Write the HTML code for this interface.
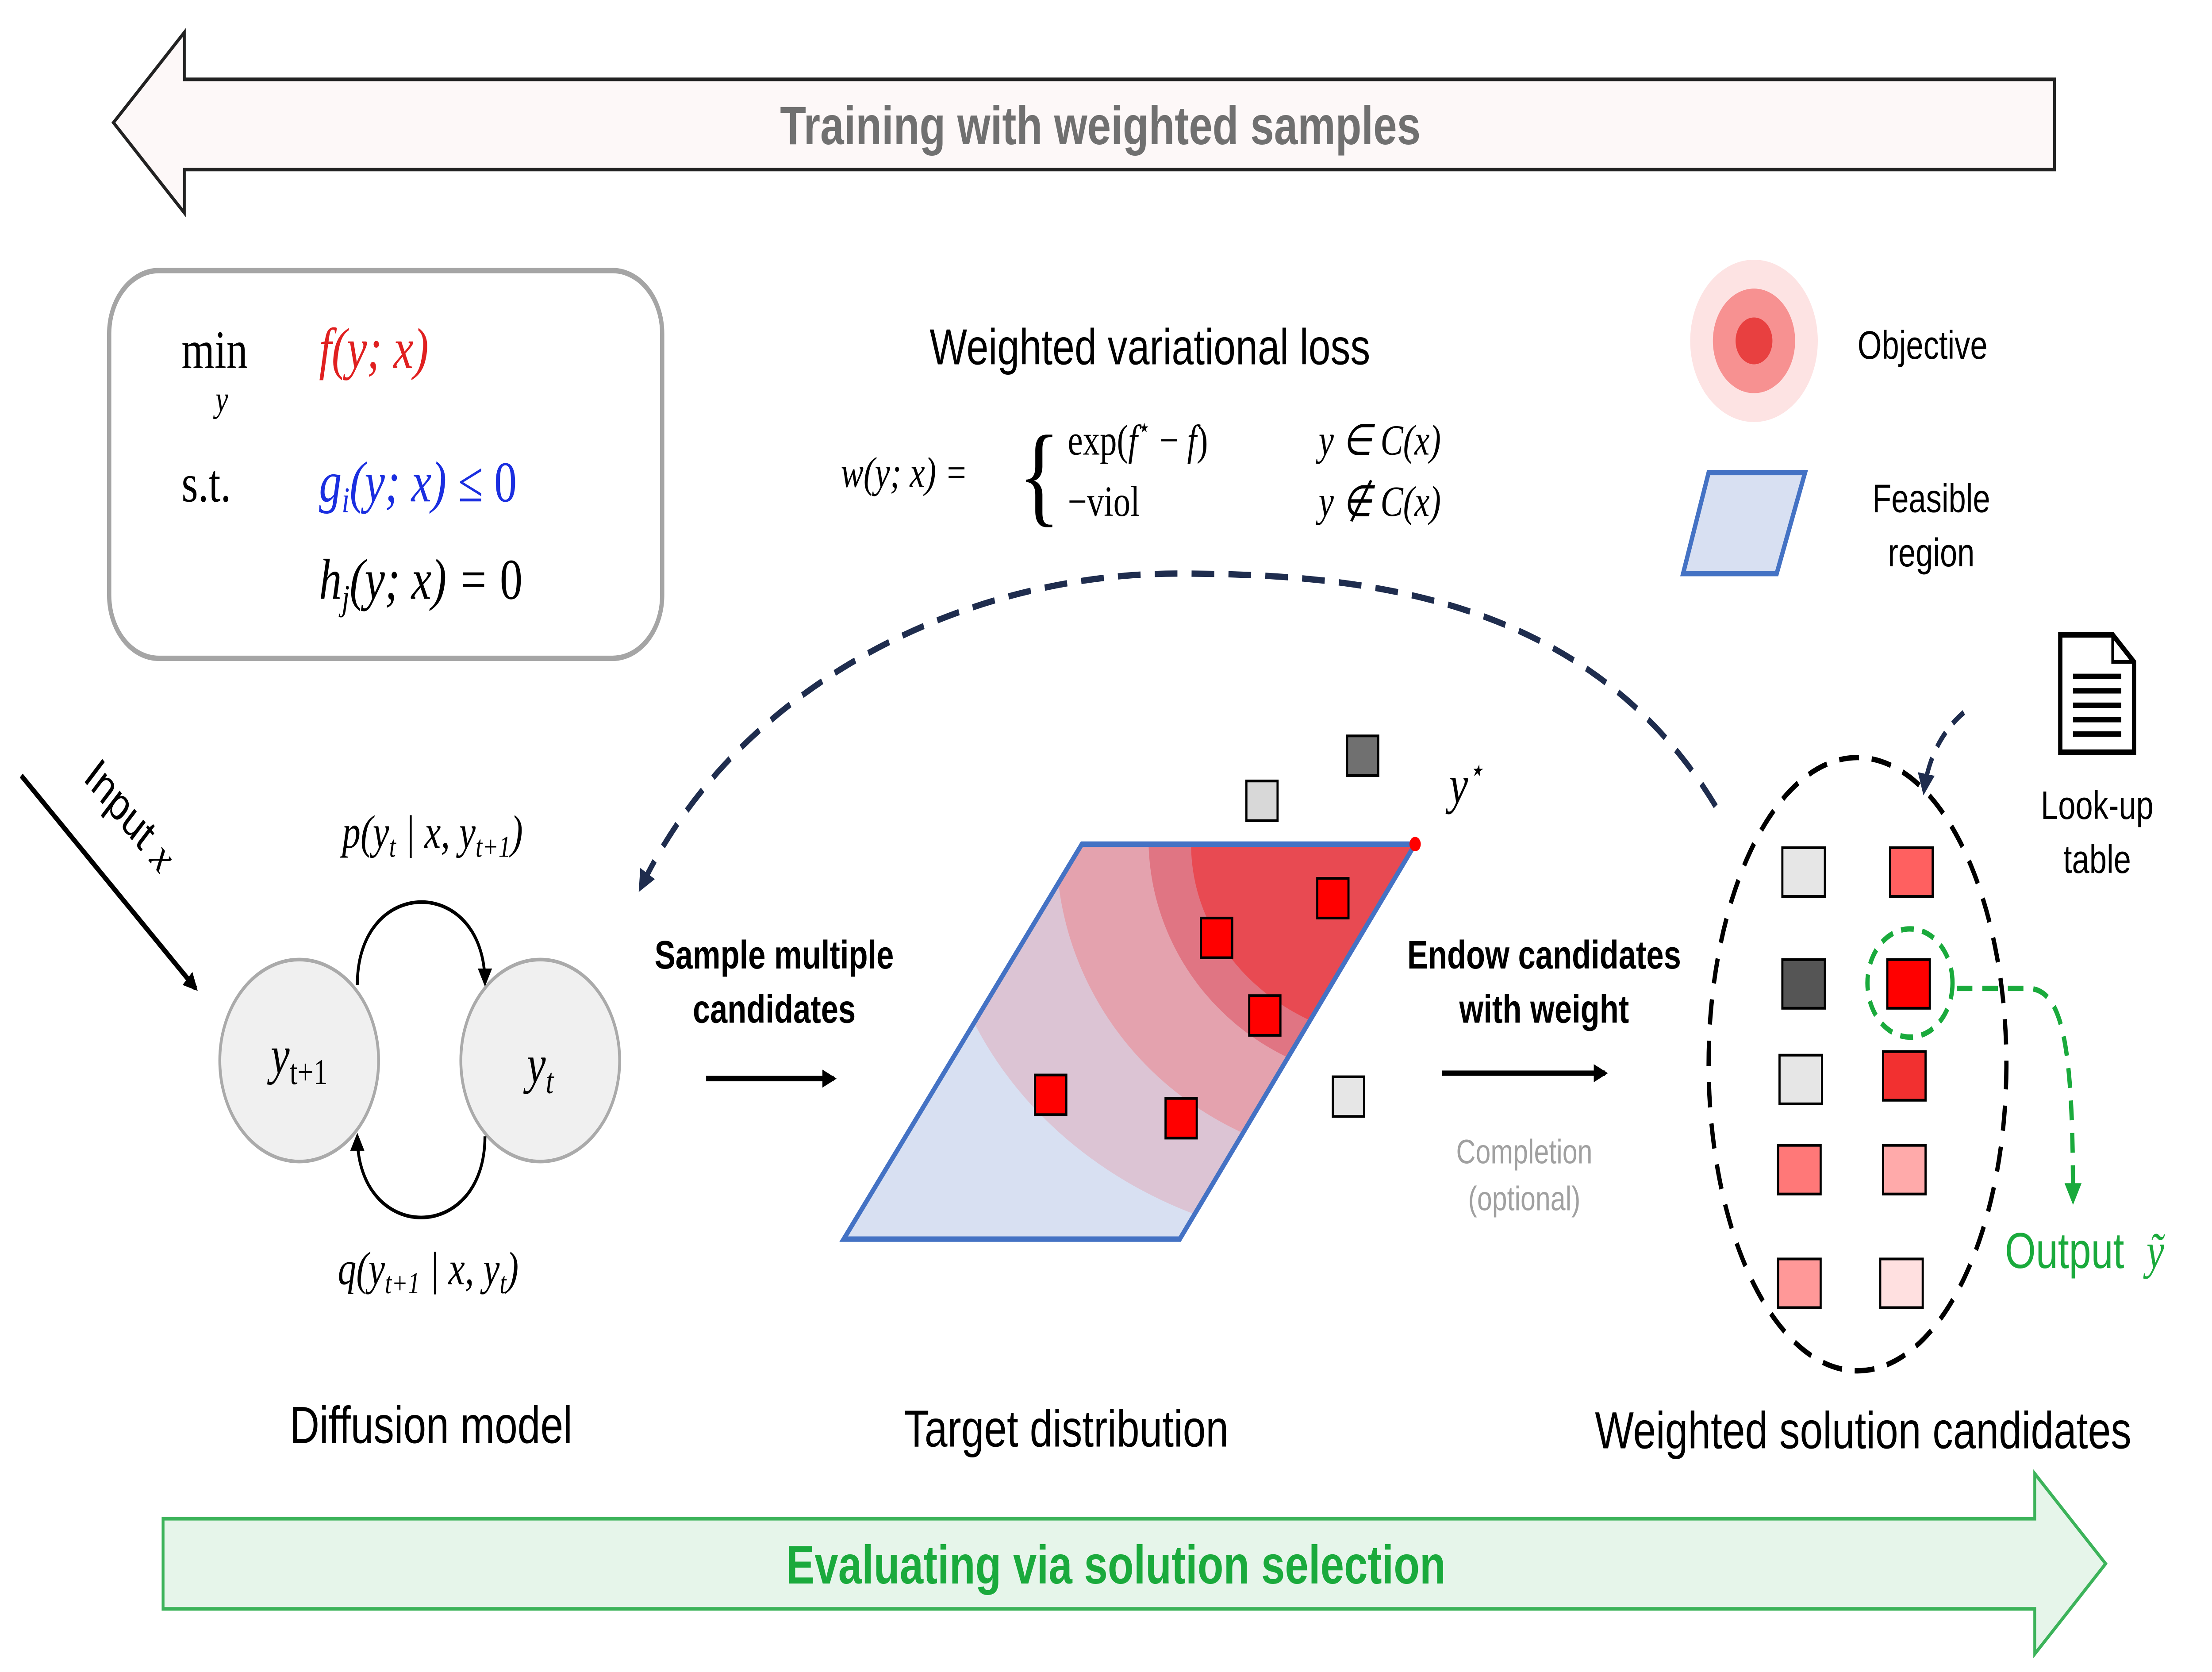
<!DOCTYPE html>
<html><head><meta charset="utf-8"><style>
html,body{margin:0;padding:0;background:#fff;overflow:hidden;width:100%;height:100%}
svg{display:block;width:100vw;height:100vh}
.s{font-family:"Liberation Sans",sans-serif}
.m{font-family:"Liberation Serif",serif}
</style></head><body>
<svg viewBox="0 0 1560 927" preserveAspectRatio="none" xmlns="http://www.w3.org/2000/svg">
<defs>
<marker id="ah" markerWidth="10" markerHeight="10" refX="8" refY="5" orient="auto" markerUnits="userSpaceOnUse"><path d="M0,0 L10,5 L0,10 z" fill="#000"/></marker>
<marker id="ahn" markerWidth="12" markerHeight="12" refX="9" refY="6" orient="auto" markerUnits="userSpaceOnUse"><path d="M0,0 L12,6 L0,12 z" fill="#1f2d4e"/></marker>
<marker id="ahg" markerWidth="12" markerHeight="12" refX="9" refY="6" orient="auto" markerUnits="userSpaceOnUse"><path d="M0,0 L12,6 L0,12 z" fill="#1aaa3c"/></marker>
<clipPath id="pc"><polygon points="763,468 998,468 832,687 595,687"/></clipPath>
</defs>

<g>
<polygon points="80,68 130,18 130,44 1449,44 1449,94 130,94 130,118" fill="#fdf8f8" stroke="#222" stroke-width="2"/>
<text x="776" y="80" text-anchor="middle" class="s" font-size="30" font-weight="bold" fill="#707070">Training with weighted samples</text>
</g>

<g>
<polygon points="115,842 1435,842 1435,817 1485,867 1435,917 1435,892 115,892" fill="#e6f5ea" stroke="#3cb35a" stroke-width="2"/>
<text x="787" y="878" text-anchor="middle" class="s" font-size="30" font-weight="bold" fill="#1aaa3c">Evaluating via solution selection</text>
</g>

<g>
<rect x="77" y="150" width="390" height="215" rx="35" fill="#fff" stroke="#a5a5a5" stroke-width="3"/>
<text x="128" y="204" class="m" font-size="30">min</text>
<text x="152" y="228" class="m" font-size="20" font-style="italic">y</text>
<text x="225" y="204" class="m" font-size="32" font-style="italic" fill="#e02020">f(y; x)</text>
<text x="128" y="278" class="m" font-size="30">s.t.</text>
<text x="225" y="278" class="m" font-size="32" font-style="italic" fill="#1a2ee0">g<tspan font-size="20" dy="6">i</tspan><tspan dy="-6">(y; x) ≤ </tspan><tspan font-style="normal">0</tspan></text>
<text x="225" y="332" class="m" font-size="32" font-style="italic">h<tspan font-size="20" dy="6">j</tspan><tspan dy="-6">(y; x) = </tspan><tspan font-style="normal">0</tspan></text>
</g>

<text x="811" y="202" text-anchor="middle" class="s" font-size="28">Weighted variational loss</text>
<g class="m" font-size="24">
<text x="593" y="270" font-style="italic">w(y; x) =</text>
<text x="718" y="284" font-size="62">{</text>
<text x="753" y="252">exp(<tspan font-style="italic">f</tspan><tspan font-size="15" dy="-10">⋆</tspan><tspan dy="10"> − </tspan><tspan font-style="italic">f</tspan>)</text>
<text x="753" y="286">−viol</text>
<text x="930" y="252" font-style="italic">y ∈ C(x)</text>
<text x="930" y="286" font-style="italic">y ∉ C(x)</text>
</g>

<g>
<circle cx="1237" cy="189" r="45" fill="#fde3e3"/>
<circle cx="1237" cy="189" r="29" fill="#f79191"/>
<circle cx="1237" cy="189" r="13" fill="#e84040"/>
<text x="1310" y="199" class="s" font-size="22">Objective</text>
</g>
<g>
<polygon points="1205,262 1273,262 1253,318 1187,318" fill="#d8e0f2" stroke="#4472c4" stroke-width="3"/>
<text x="1362" y="284" text-anchor="middle" class="s" font-size="22">Feasible</text>
<text x="1362" y="314" text-anchor="middle" class="s" font-size="22">region</text>
</g>

<g>
<path d="M1453,352 L1490,352 L1505,367 L1505,417 L1453,417 Z" fill="#fff" stroke="#000" stroke-width="3"/>
<path d="M1490,352 L1490,367 L1505,367" fill="none" stroke="#000" stroke-width="2"/>
<g stroke="#000" stroke-width="3"><line x1="1462" y1="375" x2="1496" y2="375"/><line x1="1462" y1="383" x2="1496" y2="383"/><line x1="1462" y1="391" x2="1496" y2="391"/><line x1="1462" y1="399" x2="1496" y2="399"/><line x1="1462" y1="407" x2="1496" y2="407"/></g>
<text x="1479" y="454" text-anchor="middle" class="s" font-size="22">Look-up</text>
<text x="1479" y="484" text-anchor="middle" class="s" font-size="22">table</text>
</g>

<g>
<line x1="15" y1="430" x2="138" y2="548" stroke="#000" stroke-width="3" marker-end="url(#ah)"/>
<text x="0" y="0" transform="translate(58,432) rotate(44)" class="s" font-size="26">Input <tspan class="m" font-style="italic">x</tspan></text>
</g>

<g>
<circle cx="211" cy="588" r="56" fill="#f0f0f0" stroke="#aaa" stroke-width="2"/>
<circle cx="381" cy="588" r="56" fill="#f0f0f0" stroke="#aaa" stroke-width="2"/>
<text x="211" y="595" text-anchor="middle" class="m" font-size="30" font-style="italic">y<tspan font-size="20" dy="6" font-style="normal">t+1</tspan></text>
<text x="381" y="600" text-anchor="middle" class="m" font-size="30" font-style="italic">y<tspan font-size="20" dy="6">t</tspan></text>
<path d="M252,546 C252,485 342,485 342,545" fill="none" stroke="#000" stroke-width="2" marker-end="url(#ah)"/>
<path d="M342,630 C342,690 252,690 252,630" fill="none" stroke="#000" stroke-width="2" marker-end="url(#ah)"/>
<text x="305" y="470" text-anchor="middle" class="m" font-size="26" font-style="italic">p(y<tspan font-size="17" dy="5">t</tspan><tspan dy="-5"> | x, y</tspan><tspan font-size="17" dy="5">t+1</tspan><tspan dy="-5">)</tspan></text>
<text x="302" y="712" text-anchor="middle" class="m" font-size="26" font-style="italic">q(y<tspan font-size="17" dy="5">t+1</tspan><tspan dy="-5"> | x, y</tspan><tspan font-size="17" dy="5">t</tspan><tspan dy="-5">)</tspan></text>
<text x="304" y="800" text-anchor="middle" class="s" font-size="29">Diffusion model</text>
</g>

<g>
<text x="546" y="537" text-anchor="middle" class="s" font-size="22" font-weight="bold">Sample multiple</text>
<text x="546" y="567" text-anchor="middle" class="s" font-size="22" font-weight="bold">candidates</text>
<line x1="498" y1="598" x2="588" y2="598" stroke="#000" stroke-width="3" marker-end="url(#ah)"/>
</g>

<g>
<polygon points="763,468 998,468 832,687 595,687" fill="#d8e0f2"/>
<g clip-path="url(#pc)">
<ellipse cx="960" cy="480" rx="300" ry="210" fill="#dcc4d4"/>
<ellipse cx="975" cy="470" rx="230" ry="175" fill="#e4a2ae"/>
<ellipse cx="985" cy="465" rx="175" ry="135" fill="#e07583"/>
<ellipse cx="995" cy="468" rx="155" ry="110" fill="#e84a52"/>
</g>
<polygon points="763,468 998,468 832,687 595,687" fill="none" stroke="#4472c4" stroke-width="3"/>
<circle cx="998" cy="468" r="4" fill="#f00"/>
<text x="1022" y="445" class="m" font-size="30" font-style="italic">y<tspan font-size="18" dy="-12">⋆</tspan></text>
<g stroke="#000" stroke-width="1.5">
<rect x="879" y="433" width="22" height="22" fill="#d8d8d8"/>
<rect x="950" y="408" width="22" height="22" fill="#707070"/>
<rect x="940" y="597" width="22" height="22" fill="#e6e6e6"/>
<rect x="929" y="487" width="22" height="22" fill="#f00"/>
<rect x="847" y="509" width="22" height="22" fill="#f00"/>
<rect x="881" y="552" width="22" height="22" fill="#f00"/>
<rect x="730" y="596" width="22" height="22" fill="#f00"/>
<rect x="822" y="609" width="22" height="22" fill="#f00"/>
</g>
<text x="752" y="802" text-anchor="middle" class="s" font-size="29">Target distribution</text>
</g>

<path d="M1210,447 C1120,330 960,318 830,318 C680,318 520,380 452,492" fill="none" stroke="#1f2d4e" stroke-width="3.5" stroke-dasharray="16,10" marker-end="url(#ahn)"/>

<g>
<text x="1089" y="537" text-anchor="middle" class="s" font-size="22" font-weight="bold">Endow candidates</text>
<text x="1089" y="567" text-anchor="middle" class="s" font-size="22" font-weight="bold">with  weight</text>
<line x1="1017" y1="595" x2="1132" y2="595" stroke="#000" stroke-width="3" marker-end="url(#ah)"/>
<text x="1075" y="645" text-anchor="middle" class="s" font-size="19" fill="#a0a0a0">Completion</text>
<text x="1075" y="671" text-anchor="middle" class="s" font-size="19" fill="#a0a0a0">(optional)</text>
</g>

<g>
<ellipse cx="1310" cy="590" rx="105" ry="170" fill="none" stroke="#000" stroke-width="3" stroke-dasharray="14,9"/>
<path d="M1385,395 C1370,405 1360,420 1357,438" fill="none" stroke="#1f2d4e" stroke-width="3" stroke-dasharray="10,7" marker-end="url(#ahn)"/>
<g stroke="#000" stroke-width="1.5">
<rect x="1257" y="470" width="30" height="27" fill="#e6e6e6"/>
<rect x="1333" y="470" width="30" height="27" fill="#ff6060"/>
<rect x="1257" y="532" width="30" height="27" fill="#555"/>
<rect x="1331" y="532" width="30" height="27" fill="#f00"/>
<rect x="1255" y="585" width="30" height="27" fill="#e6e6e6"/>
<rect x="1328" y="583" width="30" height="27" fill="#f23030"/>
<rect x="1254" y="635" width="30" height="27" fill="#ff7878"/>
<rect x="1328" y="635" width="30" height="27" fill="#ffaaaa"/>
<rect x="1254" y="698" width="30" height="27" fill="#ff9898"/>
<rect x="1326" y="698" width="30" height="27" fill="#ffe0e0"/>
</g>
<circle cx="1347" cy="545" r="30" fill="none" stroke="#1aaa3c" stroke-width="3" stroke-dasharray="9,6"/>
<path d="M1380,548 L1430,548 C1455,548 1462,580 1462,665" fill="none" stroke="#1aaa3c" stroke-width="3" stroke-dasharray="11,7" marker-end="url(#ahg)"/>
<text x="1414" y="703" class="s" font-size="28" fill="#1aaa3c">Output <tspan class="m" font-style="italic" dx="8">ỹ</tspan></text>
<text x="1314" y="803" text-anchor="middle" class="s" font-size="29">Weighted solution candidates</text>
</g>
</svg>
</body></html>
